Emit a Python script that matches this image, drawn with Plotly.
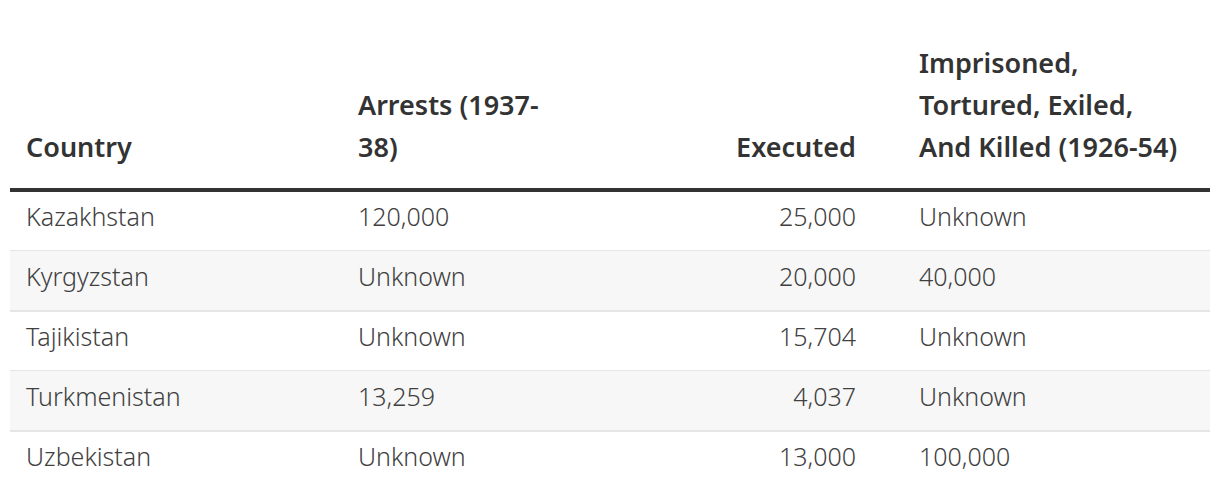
import plotly.graph_objects as go

# ---- data ----
columns = ["Country", "Arrests (1937-<br>38)", "Executed",
           "Imprisoned,<br>Tortured, Exiled,<br>And Killed (1926-54)"]
countries = ["Kazakhstan", "Kyrgyzstan", "Tajikistan", "Turkmenistan", "Uzbekistan"]
arrests = ["120,000", "Unknown", "Unknown", "13,259", "Unknown"]
executed = ["25,000", "20,000", "15,704", "4,037", "13,000"]
imprisoned = ["Unknown", "40,000", "Unknown", "Unknown", "100,000"]

# ---- layout constants (page pixel space; the page body has an 8px margin) ----
PAGE_W, PAGE_H = 1220, 500
OFF = 8
TABLE_L, TABLE_R = 10, 1210
HEAD_BOTTOM = 190          # centre of thick header rule
ROW_H = 60
col_anchor = [26, 358, 856, 919]
col_align = ["left", "left", "right", "left"]
HEAD_BASE = 150            # centre of last header line
HEAD_LINE = 42
ROW_TEXT_OFF = 30

body_font = dict(family="Noto Sans", size=25, color="#404040", weight=300)
head_font = dict(family="Noto Sans", size=27, color="#333333", weight=600)

fig = go.Figure()

# header text
for ci, label in enumerate(columns):
    lines = label.split("<br>")
    n = len(lines)
    ys = [HEAD_BASE - HEAD_LINE * (n - 1 - k) for k in range(n)]
    fig.add_trace(go.Scatter(
        x=[col_anchor[ci]] * n, y=ys, text=lines, mode="text",
        textposition="middle right" if col_align[ci] == "left" else "middle left",
        textfont=head_font, hoverinfo="skip", showlegend=False))

# row backgrounds / separators
shapes = []
nrows = len(countries)
for i in range(nrows):
    top = HEAD_BOTTOM + ROW_H * i
    bot = top + ROW_H
    if i % 2 == 1:
        shapes.append(dict(type="rect", xref="x", yref="y", x0=TABLE_L, x1=TABLE_R,
                           y0=top + 1, y1=bot, fillcolor="#f7f7f7", line_width=0, layer="below"))
    if i < nrows - 1:
        shapes.append(dict(type="line", xref="x", yref="y", x0=TABLE_L, x1=TABLE_R,
                           y0=bot + 1, y1=bot + 1, line=dict(color="#e6e6e6", width=2), layer="below"))
shapes.append(dict(type="line", xref="x", yref="y", x0=TABLE_L, x1=TABLE_R,
                   y0=HEAD_BOTTOM, y1=HEAD_BOTTOM, line=dict(color="#333333", width=4)))

# body text
body_cols = [countries, arrests, executed, imprisoned]
row_y = [HEAD_BOTTOM + ROW_H * i + ROW_TEXT_OFF for i in range(nrows)]
for ci, vals in enumerate(body_cols):
    fig.add_trace(go.Scatter(
        x=[col_anchor[ci]] * nrows, y=row_y, text=vals, mode="text",
        textposition="middle right" if col_align[ci] == "left" else "middle left",
        textfont=body_font, hoverinfo="skip", showlegend=False))

fig.update_layout(
    width=PAGE_W - OFF, height=PAGE_H - OFF, margin=dict(l=0, r=0, t=0, b=0),
    paper_bgcolor="white", plot_bgcolor="white",
    xaxis=dict(range=[OFF, PAGE_W], visible=False, fixedrange=True),
    yaxis=dict(range=[PAGE_H, OFF], visible=False, fixedrange=True),
    shapes=shapes, showlegend=False,
)
fig.write_html("out.html", config={"displayModeBar": False})
